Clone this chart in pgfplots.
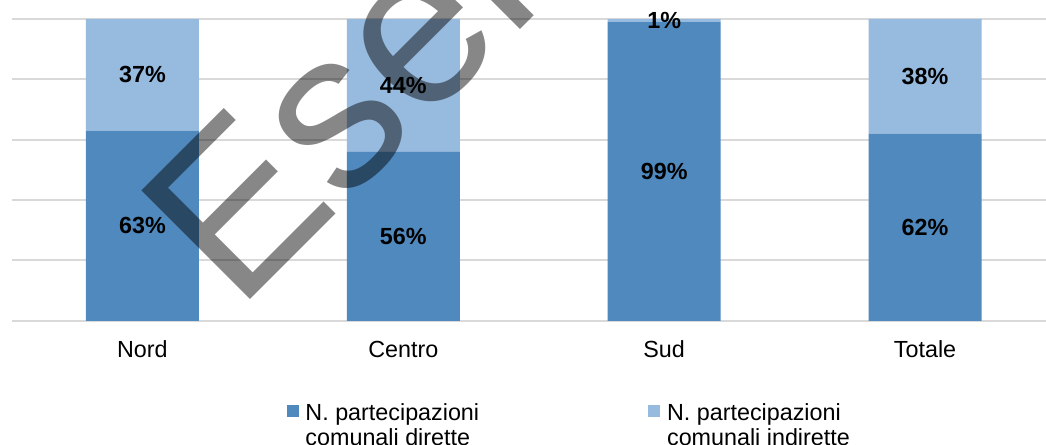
\documentclass[border=0pt]{standalone}
\usepackage{pgfplots}
\pgfplotsset{compat=1.18}
\usepackage{fontspec}
\setmainfont{Liberation Sans}
\definecolor{darkbar}{RGB}{79,137,190}
\definecolor{lightbar}{RGB}{151,186,223}
\definecolor{gridgray}{RGB}{217,217,217}
\begin{document}
\begin{tikzpicture}
\begin{scope}
\clip (-9pt,-93pt) rectangle (775.9pt,240.75pt);
\begin{axis}[
  at={(0,0)}, anchor=south west,
  scale only axis, width=775.9pt, height=226.5pt,
  ybar stacked, bar width=84.75pt,
  xmin=-0.5, xmax=3.4636, ymin=0, ymax=100,
  xtick={0,1,2,3}, xticklabels={Nord,Centro,Sud,Totale},
  ytick={0,20,40,60,80,100}, yticklabels={},
  ymajorgrids, grid style={draw=gridgray, line width=1.5pt},
  axis line style={draw=none}, major tick length=0pt,
  xticklabel style={font=\fontsize{17.5}{19}\selectfont, anchor=base, yshift=-27.75pt, inner sep=0pt},
  legend image code/.code={\fill[#1] (0pt,2.5pt) rectangle (9pt,11.5pt);},
  legend columns=2,
  legend style={at={(axis description cs:0.2658,-0.2625)}, anchor=north west,
    draw=none, fill=none, inner sep=0pt, outer sep=0pt,
    font=\fontsize{17.5}{19}\selectfont,
    cells={anchor=base west},
    /tikz/every odd column/.append style={column sep=3pt},
    /tikz/every even column/.append style={column sep=125pt}},
]
\addplot[fill=darkbar, draw=none] coordinates {(0,63) (1,56) (2,99) (3,62)};
\addlegendentry{\begin{tabular}[t]{@{}l@{}}N. partecipazioni\\comunali dirette\end{tabular}}
\addplot[fill=lightbar, draw=none] coordinates {(0,37) (1,44) (2,1) (3,38)};
\addlegendentry{\begin{tabular}[t]{@{}l@{}}N. partecipazioni\\comunali indirette\end{tabular}}
\end{axis}
\begin{axis}[
  at={(0,0)}, anchor=south west,
  scale only axis, width=775.9pt, height=226.5pt,
  xmin=-0.5, xmax=3.4636, ymin=0, ymax=100,
  hide axis, clip=false,
]
\addplot[only marks, mark=none, draw=none,
  nodes near coords, point meta=explicit symbolic,
  nodes near coords style={anchor=center, inner sep=0pt, text=black, font=\bfseries\fontsize{17.5}{19}\selectfont}]
  coordinates {(0,31.5)[63\%] (1,28)[56\%] (2,49.5)[99\%] (3,31)[62\%]
               (0,81.5)[37\%] (1,78)[44\%] (2,99.5)[1\%] (3,81)[38\%]};
\end{axis}
\node[rotate=45, anchor=base west, inner sep=0pt, outer sep=0pt, text=black, text opacity=0.47,
  font=\fontsize{167.6}{167.6}\selectfont] at (169.1pt,6.4pt) {Esempio};
\end{scope}
\pgfresetboundingbox
\useasboundingbox (-9pt,-93pt) rectangle (775.9pt,240.75pt);
\end{tikzpicture}
\end{document}
